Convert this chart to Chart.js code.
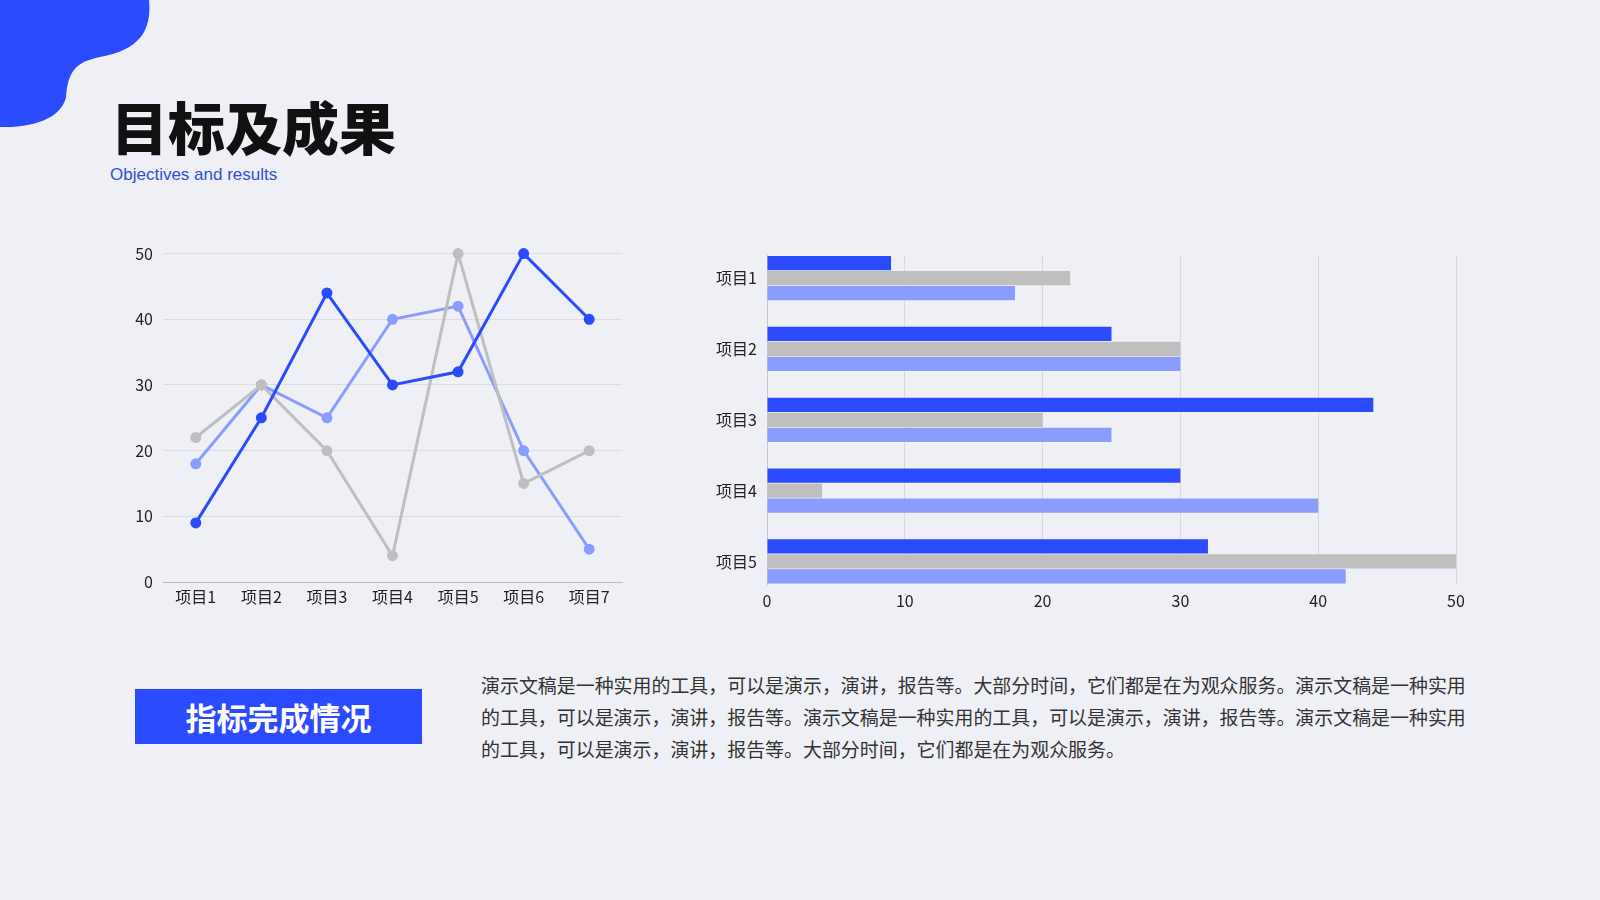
<!DOCTYPE html>
<html>
<head>
<meta charset="utf-8">
<script src="https://cdn.jsdelivr.net/npm/chart.js@4"></script>
<style>
  html, body { margin: 0; padding: 0; }
  body {
    width: 1600px; height: 900px; overflow: hidden; position: relative;
    background: #eff0f5;
    font-family: "Noto Sans CJK SC", "Noto Sans", sans-serif;
  }
  .blob { position: absolute; left: 0; top: 0; }
  .title {
    position: absolute; left: 111px; top: 97px;
    font-size: 57px; font-weight: 900; line-height: 1; color: #111;
  }
  .subtitle {
    position: absolute; left: 110px; top: 165px;
    font-family: "Liberation Sans", Arial, sans-serif;
    font-size: 17px; color: #2f4fd8;
  }
  .box { position: absolute; }
  .tag {
    position: absolute; left: 135px; top: 689px; width: 287px; height: 55px;
    background: #2a4bff; color: #fff; font-size: 31px; font-weight: 700;
    display: flex; align-items: center; justify-content: center;
  }
  .para {
    position: absolute; left: 481px; top: 669px;
    font-size: 18.95px; line-height: 32px; color: #333; white-space: nowrap;
  }
</style>
</head>
<body>
<svg class="blob" width="160" height="132" viewBox="0 0 160 132">
  <path d="M0,0 H149 C152,30 140,50 100,57 C75,62 68,72 66,97 C62,115 40,128 0,127 Z" fill="#2a4bff"/>
</svg>
<div class="title">目标及成果</div>
<div class="subtitle">Objectives and results</div>

<div class="box" style="left:100px; top:234px; width:530px; height:386px;"><canvas id="lineChart"></canvas></div>
<div class="box" style="left:680px; top:236px; width:800px; height:384px;"><canvas id="barChart"></canvas></div>

<div class="tag">指标完成情况</div>
<div class="para">
演示文稿是一种实用的工具，可以是演示，演讲，报告等。大部分时间，它们都是在为观众服务。演示文稿是一种实用<br>
的工具，可以是演示，演讲，报告等。演示文稿是一种实用的工具，可以是演示，演讲，报告等。演示文稿是一种实用<br>
的工具，可以是演示，演讲，报告等。大部分时间，它们都是在为观众服务。
</div>

<script>
const lineLabels = ['项目1', '项目2', '项目3', '项目4', '项目5', '项目6', '项目7'];
const lineSeriesA = [9, 25, 44, 30, 32, 50, 40];
const lineSeriesB = [22, 30, 20, 4, 50, 15, 20];
const lineSeriesC = [18, 30, 25, 40, 42, 20, 5];

const barLabels = ['项目1', '项目2', '项目3', '项目4', '项目5'];
const barSeriesA = [9, 25, 44, 30, 32];
const barSeriesB = [22, 30, 20, 4, 50];
const barSeriesC = [18, 30, 25, 40, 42];

const darkBlue = '#2a4bff';
const gray = '#bfbfbf';
const lightBlue = '#8a9dff';
const tickFont = { family: '"Noto Sans CJK SC", "Noto Sans", sans-serif', size: 16 };

function lineSet(data, color) {
    return {
        data: data,
        borderColor: color,
        backgroundColor: color,
        borderWidth: 3,
        pointRadius: 4,
        pointHoverRadius: 4,
        tension: 0,
        clip: false
    };
}

new Chart(document.getElementById('lineChart'), {
    type: 'line',
    data: {
        labels: lineLabels,
        datasets: [
            lineSet(lineSeriesA, darkBlue),
            lineSet(lineSeriesB, gray),
            lineSet(lineSeriesC, lightBlue)
        ]
    },
    options: {
        responsive: true,
        maintainAspectRatio: false,
        animation: false,
        layout: { padding: { top: 0, right: 8, left: 0, bottom: 0 } },
        plugins: { legend: { display: false }, tooltip: { enabled: false } },
        scales: {
            x: {
                offset: true,
                grid: { display: false, drawTicks: false },
                border: { display: true, color: '#bdbdc2', width: 1 },
                ticks: { color: '#222', font: tickFont, padding: 5 },
                afterFit: (s) => { s.height = 38; }
            },
            y: {
                min: 0, max: 50,
                ticks: { stepSize: 10, color: '#222', font: tickFont, padding: 10 },
                grid: { color: '#dcdde3', drawTicks: false },
                border: { display: false },
                afterFit: (s) => { s.width = 63; }
            }
        }
    }
});

// bar groups sit flush with the top and bottom of the plot, so the
// category axis is a linear index scale with a small margin
function barSet(data, color) {
    return {
        data: data.map((v, i) => ({ x: v, y: i })),
        backgroundColor: color,
        borderColor: color,
        borderWidth: 0,
        categoryPercentage: 0.636,
        barPercentage: 0.95
    };
}

new Chart(document.getElementById('barChart'), {
    type: 'bar',
    data: {
        datasets: [
            barSet(barSeriesA, darkBlue),
            barSet(barSeriesB, gray),
            barSet(barSeriesC, lightBlue)
        ]
    },
    options: {
        indexAxis: 'y',
        responsive: true,
        maintainAspectRatio: false,
        animation: false,
        layout: { padding: { top: 0, right: 24, left: 0, bottom: 0 } },
        plugins: { legend: { display: false }, tooltip: { enabled: false } },
        scales: {
            x: {
                type: 'linear',
                min: 0, max: 50,
                ticks: { stepSize: 10, color: '#222', font: tickFont, padding: 7 },
                grid: { color: '#d8d9df', drawTicks: false },
                border: { display: false },
                afterFit: (s) => { s.height = 36; }
            },
            y: {
                type: 'linear',
                reverse: true,
                offset: false,
                min: -0.318, max: barLabels.length - 1 + 0.318,
                grid: { display: false, drawTicks: false, offset: false },
                border: { display: true, color: '#c8c8cc', width: 1 },
                ticks: {
                    stepSize: 1,
                    includeBounds: false,
                    color: '#222', font: tickFont, padding: 10,
                    callback: (v) => barLabels[v] || ''
                },
                afterFit: (s) => { s.width = 87; }
            }
        }
    }
});
</script>
</body>
</html>
